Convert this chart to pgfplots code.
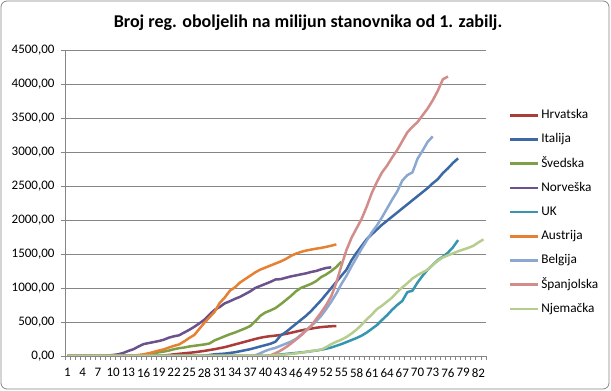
\documentclass[border=0pt]{standalone}
\usepackage{fontspec}
\setmainfont{Carlito}
\usepackage{pgfplots}
\pgfplotsset{compat=1.18}
\definecolor{cHR}{RGB}{170,60,58}
\definecolor{cIT}{RGB}{60,105,165}
\definecolor{cSE}{RGB}{125,160,70}
\definecolor{cNO}{RGB}{107,82,140}
\definecolor{cUK}{RGB}{55,150,175}
\definecolor{cAT}{RGB}{230,128,50}
\definecolor{cBE}{RGB}{140,168,210}
\definecolor{cES}{RGB}{210,140,138}
\definecolor{cDE}{RGB}{183,205,142}
\definecolor{gridc}{RGB}{134,134,134}
\begin{document}
\begin{tikzpicture}
\path[use as bounding box] (0bp,0bp) rectangle (611bp,391bp);
\draw[rounded corners=6bp, draw=gridc, line width=0.8bp] (1bp,2bp) rectangle (609bp,390bp);
\node[font=\bfseries\fontsize{18bp}{21bp}\selectfont, anchor=base] at (308bp,363bp) {Broj reg. oboljelih na milijun stanovnika od 1. zabilj.};
\begin{axis}[
  at={(65bp,35bp)}, anchor=south west, scale only axis,
  width=421bp, height=306bp,
  xmin=0.5, xmax=83.5, ymin=0, ymax=4500,
  axis x line=bottom, axis y line=left,
  axis line style={-, draw=gridc, line width=0.8bp},
  tick align=outside, major tick length=4bp,
  tick style={draw=gridc, line width=0.8bp},
  ytick={0,500,...,4500},
  ymajorgrids, grid style={draw=gridc, line width=0.8bp},
  xtick={0.5,1.5,...,83.5}, xticklabels={},
  extra x ticks={1,4,7,10,13,16,19,22,25,28,31,34,37,40,43,46,49,52,55,58,61,64,67,70,73,76,79,82},
  extra x tick style={grid=none, tick style={draw=none}, xticklabel style={yshift=-5bp}},
  extra x tick labels={1,4,7,10,13,16,19,22,25,28,31,34,37,40,43,46,49,52,55,58,61,64,67,70,73,76,79,82},
  /pgf/number format/assume math mode=true,
  scaled y ticks=false,
  yticklabel style={xshift=-3bp, /pgf/number format/.cd, fixed, fixed zerofill, precision=2, use comma, 1000 sep={}},
  tick label style={font=\fontsize{13bp}{15bp}\selectfont, text=black},
  legend style={at={(1.0546,0.47)}, anchor=west, draw=none, fill=none,
    font=\fontsize{13.3bp}{15bp}\selectfont, row sep=8.7bp, inner sep=0pt,
    nodes={inner sep=1.5bp, text height=9.5bp, text depth=3bp}},
  legend cell align=left,
  legend image code/.code={\draw[#1, line width=2.6bp] (0bp,0bp) -- (28bp,0bp);},
  every axis plot/.append style={line width=2.5bp, line join=round, no markers},
]
\addplot[cHR] coordinates {(1,0)(2,0)(3,0)(4,0)(5,0)(6,0)(7,0)(8,0)(9,0)(10,0)(11,0)(12,0)(13,0)(14,0)(15,0)(16,0)(17,0)(18,0)(19,3)(20,8)(21,15)(22,25)(23,32)(24,40)(25,47)(26,55)(27,65)(28,75)(29,88)(30,100)(31,115)(32,130)(33,150)(34,170)(35,190)(36,210)(37,230)(38,250)(39,268)(40,282)(41,292)(42,300)(43,310)(44,325)(45,340)(46,358)(47,375)(48,390)(49,402)(50,415)(51,425)(52,432)(53,437)(54,441)};
\addlegendentry{Hrvatska}
\addplot[cIT] coordinates {(1,0)(2,0)(3,0)(4,0)(5,0)(6,0)(7,0)(8,0)(9,0)(10,0)(11,0)(12,0)(13,0)(14,0)(15,0)(16,0)(17,0)(18,0)(19,0)(20,0)(21,0)(22,0)(23,0)(24,0)(25,0)(26,0)(27,0)(28,5)(29,15)(30,25)(31,30)(32,35)(33,45)(34,55)(35,70)(36,85)(37,100)(38,120)(39,140)(40,160)(41,180)(42,210)(43,300)(44,350)(45,410)(46,470)(47,530)(48,590)(49,660)(50,740)(51,820)(52,910)(53,1000)(54,1090)(55,1180)(56,1270)(57,1410)(58,1520)(59,1620)(60,1720)(61,1790)(62,1860)(63,1930)(64,1990)(65,2050)(66,2110)(67,2170)(68,2230)(69,2290)(70,2350)(71,2410)(72,2470)(73,2540)(74,2600)(75,2690)(76,2760)(77,2840)(78,2906)};
\addlegendentry{Italija}
\addplot[cSE] coordinates {(1,0)(2,0)(3,0)(4,0)(5,0)(6,0)(7,0)(8,0)(9,0)(10,0)(11,0)(12,0)(13,0)(14,0)(15,5)(16,15)(17,30)(18,40)(19,55)(20,65)(21,80)(22,100)(23,115)(24,125)(25,140)(26,150)(27,160)(28,170)(29,185)(30,230)(31,260)(32,290)(33,320)(34,345)(35,375)(36,405)(37,440)(38,510)(39,590)(40,640)(41,670)(42,705)(43,760)(44,820)(45,880)(46,950)(47,1000)(48,1030)(49,1060)(50,1100)(51,1160)(52,1200)(53,1250)(54,1310)(55,1387)};
\addlegendentry{Švedska}
\addplot[cNO] coordinates {(1,0)(2,0)(3,0)(4,0)(5,0)(6,0)(7,2)(8,5)(9,8)(10,15)(11,25)(12,45)(13,75)(14,100)(15,140)(16,175)(17,190)(18,205)(19,220)(20,240)(21,270)(22,290)(23,305)(24,345)(25,385)(26,430)(27,480)(28,535)(29,610)(30,680)(31,720)(32,775)(33,805)(34,840)(35,870)(36,910)(37,950)(38,1000)(39,1030)(40,1060)(41,1090)(42,1125)(43,1130)(44,1150)(45,1170)(46,1185)(47,1200)(48,1215)(49,1235)(50,1250)(51,1275)(52,1295)(53,1304)};
\addlegendentry{Norveška}
\addplot[cUK] coordinates {(1,0)(2,0)(3,0)(4,0)(5,0)(6,0)(7,0)(8,0)(9,0)(10,0)(11,0)(12,0)(13,0)(14,0)(15,0)(16,0)(17,0)(18,0)(19,0)(20,0)(21,0)(22,0)(23,0)(24,0)(25,0)(26,0)(27,0)(28,0)(29,0)(30,0)(31,0)(32,0)(33,0)(34,0)(35,0)(36,0)(37,0)(38,0)(39,0)(40,3)(41,8)(42,15)(43,22)(44,30)(45,38)(46,45)(47,52)(48,60)(49,70)(50,80)(51,92)(52,108)(53,125)(54,150)(55,175)(56,205)(57,235)(58,265)(59,300)(60,345)(61,400)(62,455)(63,530)(64,600)(65,680)(66,750)(67,810)(68,940)(69,960)(70,1080)(71,1180)(72,1270)(73,1340)(74,1410)(75,1460)(76,1520)(77,1600)(78,1705)};
\addlegendentry{UK}
\addplot[cAT] coordinates {(1,0)(2,0)(3,0)(4,0)(5,0)(6,0)(7,0)(8,0)(9,0)(10,0)(11,0)(12,0)(13,0)(14,5)(15,15)(16,25)(17,40)(18,60)(19,80)(20,98)(21,125)(22,150)(23,170)(24,215)(25,265)(26,310)(27,400)(28,490)(29,570)(30,650)(31,780)(32,860)(33,960)(34,1010)(35,1080)(36,1130)(37,1180)(38,1230)(39,1270)(40,1300)(41,1330)(42,1360)(43,1390)(44,1425)(45,1470)(46,1505)(47,1530)(48,1550)(49,1565)(50,1578)(51,1590)(52,1605)(53,1622)(54,1641)};
\addlegendentry{Austrija}
\addplot[cBE] coordinates {(1,0)(2,0)(3,0)(4,0)(5,0)(6,0)(7,0)(8,0)(9,0)(10,0)(11,0)(12,0)(13,0)(14,0)(15,0)(16,0)(17,0)(18,0)(19,0)(20,0)(21,0)(22,0)(23,0)(24,0)(25,0)(26,0)(27,0)(28,0)(29,0)(30,0)(31,0)(32,0)(33,0)(34,0)(35,0)(36,0)(37,0)(38,10)(39,40)(40,75)(41,100)(42,120)(43,150)(44,180)(45,210)(46,250)(47,310)(48,380)(49,440)(50,510)(51,590)(52,690)(53,800)(54,920)(55,1060)(56,1180)(57,1320)(58,1450)(59,1580)(60,1700)(61,1820)(62,1920)(63,2040)(64,2170)(65,2300)(66,2420)(67,2580)(68,2660)(69,2700)(70,2900)(71,3020)(72,3150)(73,3229)};
\addlegendentry{Belgija}
\addplot[cES] coordinates {(1,0)(2,0)(3,0)(4,0)(5,0)(6,0)(7,0)(8,0)(9,0)(10,0)(11,0)(12,0)(13,0)(14,0)(15,0)(16,0)(17,0)(18,0)(19,0)(20,0)(21,0)(22,0)(23,0)(24,0)(25,0)(26,0)(27,0)(28,0)(29,0)(30,0)(31,0)(32,0)(33,0)(34,0)(35,0)(36,0)(37,0)(38,0)(39,0)(40,3)(41,10)(42,40)(43,80)(44,125)(45,180)(46,240)(47,300)(48,370)(49,440)(50,540)(51,640)(52,750)(53,880)(54,1080)(55,1330)(56,1560)(57,1740)(58,1880)(59,2020)(60,2200)(61,2400)(62,2560)(63,2700)(64,2800)(65,2920)(66,3030)(67,3160)(68,3290)(69,3370)(70,3440)(71,3540)(72,3640)(73,3760)(74,3900)(75,4070)(76,4110)};
\addlegendentry{Španjolska}
\addplot[cDE] coordinates {(1,0)(2,0)(3,0)(4,0)(5,0)(6,0)(7,0)(8,0)(9,0)(10,0)(11,0)(12,0)(13,0)(14,0)(15,0)(16,0)(17,0)(18,0)(19,0)(20,0)(21,0)(22,0)(23,0)(24,0)(25,0)(26,0)(27,0)(28,0)(29,0)(30,0)(31,0)(32,0)(33,0)(34,0)(35,0)(36,0)(37,0)(38,0)(39,0)(40,3)(41,6)(42,10)(43,15)(44,22)(45,30)(46,38)(47,48)(48,60)(49,72)(50,82)(51,95)(52,130)(53,175)(54,210)(55,240)(56,280)(57,330)(58,390)(59,460)(60,540)(61,610)(62,690)(63,740)(64,800)(65,860)(66,940)(67,1010)(68,1070)(69,1140)(70,1190)(71,1230)(72,1270)(73,1340)(74,1400)(75,1450)(76,1480)(77,1510)(78,1540)(79,1565)(80,1590)(81,1620)(82,1670)(83,1715)};
\addlegendentry{Njemačka}
\end{axis}
\end{tikzpicture}
\end{document}
